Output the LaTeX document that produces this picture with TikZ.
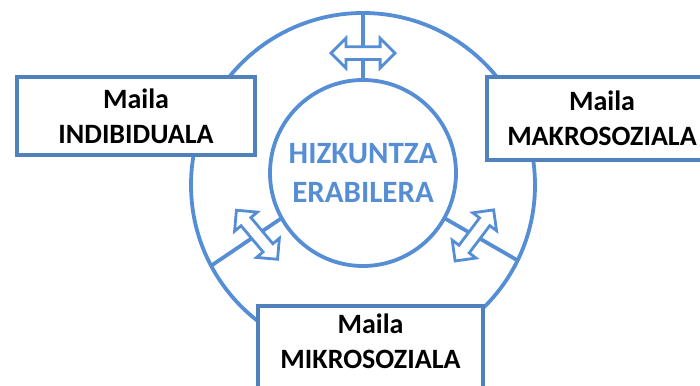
\documentclass[tikz,border=0pt]{standalone}
\usepackage{fontspec}
\setmainfont{Carlito}
\usetikzlibrary{shapes.arrows}

\definecolor{ringblue}{RGB}{85,142,213}
\definecolor{boxblue}{RGB}{79,129,189}

\tikzset{
  ring/.style={circle, draw=ringblue, line width=3.8pt, inner sep=0pt, outer sep=0pt},
  spoke/.style={draw=ringblue, line width=3.8pt},
  levelbox/.style={rectangle, draw=boxblue, line width=3.8pt, fill=white, inner sep=0pt},
  leveltext/.style={align=center, font=\fontsize{28}{35}\selectfont\bfseries},
  swaparrow/.style={double arrow, draw=ringblue, fill=white, line width=2.8pt,
    inner sep=5pt, minimum height=64pt, double arrow head extend=8.5pt},
}

\begin{document}
\begin{tikzpicture}[x=1pt,y=1pt]

  \useasboundingbox (0,0) rectangle (700,385);
  \clip (0,0) rectangle (700,385);

  % outer ring
  \node[ring, minimum size=344pt] (rim) at (363,200) {};

  % the three levels
  \node[levelbox, leveltext, minimum width=238pt, minimum height=78pt] (indiv) at (136,269) {Maila\\INDIBIDUALA};
  \node[levelbox, leveltext, minimum width=230pt, minimum height=83pt] (macro) at (602,266.5) {Maila\\MAKROSOZIALA};
  \node[levelbox, minimum width=225pt, minimum height=100pt, anchor=north] (micro) at (370.5,81) {};
  \node[leveltext] (microtext) at (370.5,43.5) {Maila\\MIKROSOZIALA};

  % language use in the middle
  \node[ring, minimum size=186pt, text=ringblue, align=center,
        font=\fontsize{31}{39}\selectfont\bfseries] (core) at (363,212) {HIZKUNTZA\\ERABILERA};

  % spokes with two-way arrows
  \draw[spoke] (rim.90) -- node[swaparrow, pos=0.6] (arrtop) {} (core.90);
  \draw[spoke] (core.209) -- node[swaparrow, pos=0.35, rotate=-50] (arrleft) {} (rim.208);
  \draw[spoke] (core.-29) -- node[swaparrow, pos=0.41, rotate=53] (arrright) {} (rim.-26);

\end{tikzpicture}
\end{document}
